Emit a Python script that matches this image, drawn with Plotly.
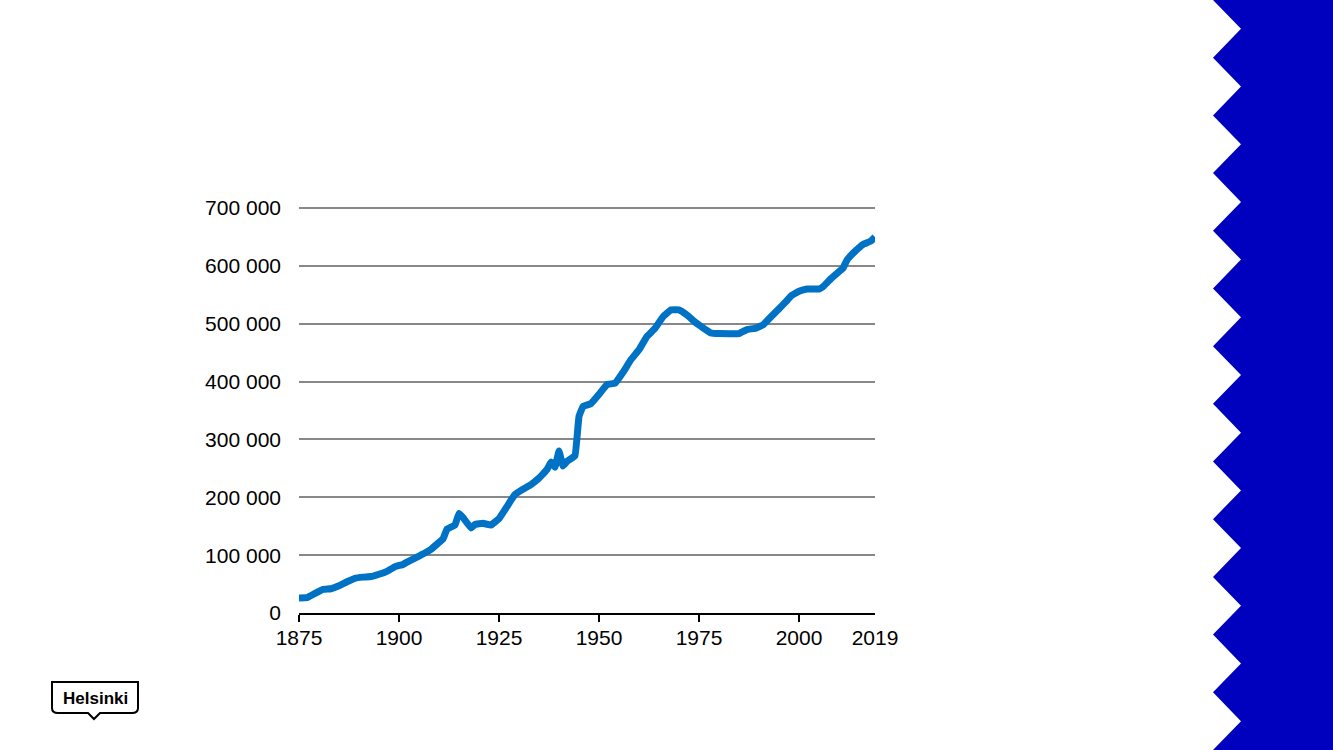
import plotly.graph_objects as go

years = [1875, 1877, 1879, 1881, 1883, 1885, 1887, 1889, 1891, 1893, 1895, 1897, 1899,
         1901, 1902, 1904, 1906, 1908, 1910, 1911, 1912, 1914, 1915, 1916, 1918, 1919,
         1921, 1923, 1925, 1927, 1928, 1929, 1931, 1933, 1935, 1937, 1938, 1939, 1940,
         1941, 1942, 1944, 1945, 1946, 1948, 1950, 1952, 1954, 1956, 1958, 1960, 1962,
         1964, 1966, 1968, 1970, 1972, 1974, 1976, 1978, 1980, 1985, 1987, 1989, 1991,
         1993, 1995, 1997, 1998, 2000, 2002, 2005, 2006, 2008, 2010, 2011, 2012, 2014,
         2016, 2018, 2019]
population = [26000, 26500, 34000, 41000, 42000, 47000, 54000, 60000, 62000, 63000, 67000,
              72000, 80000, 84000, 88000, 95000, 102000, 110000, 122000, 128000, 145000,
              152000, 172000, 165000, 147000, 153000, 155000, 152000, 163000, 184000,
              195000, 205000, 214000, 222000, 233000, 248000, 261000, 252000, 280000,
              254000, 262000, 272000, 340000, 357000, 362000, 378000, 395000, 397000,
              416000, 438000, 455000, 478000, 492000, 512000, 524000, 524000, 515000,
              503000, 493000, 484000, 483000, 483000, 490000, 492000, 498000, 512000,
              526000, 540000, 548000, 556000, 560000, 560000, 564000, 578000, 590000,
              596000, 610000, 625000, 637000, 643000, 650000]

x_tick_vals = [1875, 1900, 1925, 1950, 1975, 2000, 2019]
x_tick_text = ["1875", "1900", "1925", "1950", "1975", "2000", "2019"]
x_tick_marks = [1875, 1900, 1925, 1950, 1975, 2000]
y_tick_vals = [0, 100000, 200000, 300000, 400000, 500000, 600000, 700000]
y_tick_text = ["0", "100 000", "200 000", "300 000", "400 000", "500 000", "600 000", "700 000"]

W, H = 1333, 750
FONT = "Liberation Sans, Arial, sans-serif"

fig = go.Figure()
fig.add_trace(go.Scatter(x=years, y=population, mode="lines",
                         line=dict(color="#0072C6", width=7, shape="spline", smoothing=0.2),
                         hoverinfo="x+y", showlegend=False))

y_top = 702000
x0, x1 = 299 / W, 875 / W
y0 = 1 - 613 / H
y1 = 1 - (613 - 405 * y_top / 700000) / H

shapes = []
period = H / 13
pts = []
for i in range(13):
    pts.append((1213, i * period))
    pts.append((1241, i * period + period / 2))
pts.append((1213, H))

def P(px, py):
    return f"{px / W:.5f} {1 - py / H:.5f}"

zig = f"M {P(W, 0)} " + " ".join(f"L {P(px, py)}" for px, py in pts) + f" L {P(W, H)} Z"
shapes.append(dict(type="path", xref="paper", yref="paper", path=zig,
                   fillcolor="#0000BF", line=dict(width=0), layer="below"))

lx0, lx1, ly0, ly1 = 52, 138, 682, 712
logo = (f"M {P(lx0, ly0)} L {P(lx1, ly0)} L {P(lx1, ly1 - 4)} "
        f"Q {P(lx1, ly1 + 1)} {P(lx1 - 6, ly1 + 1)} "
        f"L {P(100, ly1 + 1)} L {P(94, 719)} L {P(88, ly1 + 1)} "
        f"L {P(lx0 + 6, ly1 + 1)} Q {P(lx0, ly1 + 1)} {P(lx0, ly1 - 4)} Z")
shapes.append(dict(type="path", xref="paper", yref="paper", path=logo,
                   fillcolor="white", line=dict(color="black", width=2)))

fig.update_layout(
    width=W, height=H,
    margin=dict(l=0, r=0, t=0, b=0),
    paper_bgcolor="white", plot_bgcolor="white",
    font=dict(family=FONT, size=21, color="black"),
    shapes=shapes,
    annotations=[dict(x=95 / W, y=1 - 698 / H, xref="paper", yref="paper",
                      xanchor="center", yanchor="middle",
                      text="<b>Helsinki</b>", showarrow=False,
                      font=dict(family=FONT, size=17, color="black"))],
    xaxis=dict(domain=[x0, x1], range=[1875, 2019], tickvals=x_tick_vals, ticktext=x_tick_text,
               showgrid=False, zeroline=False, showline=True, linecolor="black", linewidth=1.5,
               ticks="", ticklabelstandoff=5, automargin=False, fixedrange=True,
               minor=dict(tickvals=x_tick_marks, ticks="outside", ticklen=7, tickwidth=1.5,
                          tickcolor="black", showgrid=False)),
    yaxis=dict(domain=[y0, y1], range=[0, y_top], tickvals=y_tick_vals, ticktext=y_tick_text,
               showgrid=True, gridcolor="#888888", gridwidth=1.5, zeroline=False,
               showline=False, ticks="", ticklabelstandoff=17, automargin=False, fixedrange=True),
)

fig.write_html("out.html", config={"displayModeBar": False},
               post_script="document.body.style.margin='0';document.body.style.overflow='hidden';")
